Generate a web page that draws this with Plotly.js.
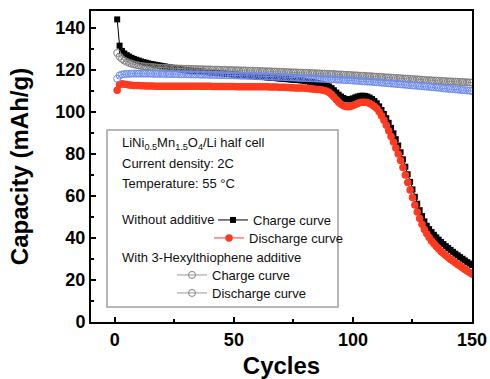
<!DOCTYPE html>
<html><head><meta charset="utf-8">
<script src="https://cdn.plot.ly/plotly-3.0.1.min.js"></script>
<style>html,body{margin:0;padding:0;background:#fff}#chart{width:490px;height:379px}</style>
</head><body><div id="chart"></div>
<script>
const cycles = [1,2,3,4,5,6,7,8,9,10,11,12,13,14,15,16,17,18,19,20,21,22,23,24,25,26,27,28,29,30,
31,32,33,34,35,36,37,38,39,40,41,42,43,44,45,46,47,48,49,50,51,52,53,54,55,56,57,58,59,60,
61,62,63,64,65,66,67,68,69,70,71,72,73,74,75,76,77,78,79,80,81,82,83,84,85,86,87,88,89,90,
91,92,93,94,95,96,97,98,99,100,101,102,103,104,105,106,107,108,109,110,111,112,113,114,115,116,117,118,119,120,
121,122,123,124,125,126,127,128,129,130,131,132,133,134,135,136,137,138,139,140,141,142,143,144,145,146,147,148,149,150];

const chargeNoAdd = [144.0,131.5,129.0,127.8,127.0,126.3,125.7,125.2,124.8,124.4,
124.0,123.7,123.4,123.1,122.8,122.6,122.4,122.2,122.0,121.8,
121.6,121.4,121.2,121.0,120.8,120.6,120.4,120.2,120.0,119.8,
119.7,119.6,119.5,119.4,119.3,119.2,119.1,119.0,118.9,118.8,
118.7,118.6,118.5,118.4,118.3,118.2,118.1,118.0,117.9,117.8,
117.7,117.6,117.5,117.4,117.3,117.2,117.1,117.0,116.9,116.8,
116.7,116.6,116.5,116.4,116.3,116.2,116.1,116.0,115.9,115.8,
115.7,115.6,115.5,115.4,115.3,115.2,115.1,115.0,114.9,114.7,
114.5,114.3,114.1,113.9,113.7,113.5,113.3,113.0,112.6,112.1,
111.3,110.3,109.2,108.2,107.3,106.6,106.1,105.9,106.0,106.4,
106.9,107.3,107.6,107.7,107.6,107.3,106.8,106.1,105.2,104.1,
102.6,100.9,99.0,97.0,94.8,92.4,89.8,87.0,84.0,80.8,
77.4,73.9,70.3,66.7,63.1,59.6,56.3,53.2,50.4,47.9,
45.8,44.2,42.8,41.5,40.3,39.2,38.1,37.1,36.1,35.2,
34.3,33.4,32.5,31.7,30.9,30.1,29.3,28.5,27.8,27.1];

const dischargeNoAdd = [110.3,113.0,113.4,113.2,113.0,112.8,112.7,112.6,112.5,112.5,
112.4,112.4,112.3,112.3,112.3,112.3,112.2,112.2,112.2,112.2,
112.2,112.2,112.2,112.2,112.2,112.2,112.2,112.2,112.2,112.2,
112.2,112.2,112.2,112.2,112.2,112.2,112.2,112.2,112.2,112.2,
112.1,112.1,112.1,112.1,112.1,112.1,112.1,112.1,112.1,112.1,
112.0,112.0,112.0,112.0,112.0,112.0,112.0,112.0,112.0,112.0,
111.9,111.9,111.9,111.9,111.8,111.8,111.8,111.8,111.7,111.7,
111.7,111.6,111.6,111.5,111.5,111.4,111.4,111.3,111.3,111.2,
111.1,111.0,110.9,110.8,110.7,110.6,110.4,110.2,109.8,109.2,
108.3,107.1,105.8,104.6,103.6,102.9,102.5,102.4,102.6,103.0,
103.5,104.0,104.4,104.6,104.6,104.4,104.0,103.4,102.6,101.6,
100.0,98.2,96.0,93.6,91.0,88.3,85.6,82.8,79.9,76.8,
73.5,70.0,66.4,62.8,59.2,55.7,52.4,49.3,46.5,44.0,
42.0,40.2,38.6,37.2,35.9,34.7,33.6,32.6,31.6,30.7,
29.8,29.0,28.2,27.4,26.6,25.8,25.0,24.3,23.6,22.9];

const chargeAdd = [128.0,126.3,125.2,124.4,123.8,123.3,122.9,122.6,122.3,122.1,
121.9,121.7,121.6,121.5,121.4,121.3,121.2,121.1,121.0,121.0,
120.9,120.9,120.8,120.8,120.7,120.7,120.6,120.6,120.5,120.5,
120.5,120.4,120.4,120.4,120.3,120.3,120.3,120.2,120.2,120.2,
120.1,120.1,120.1,120.0,120.0,120.0,119.9,119.9,119.9,119.8,
119.8,119.8,119.7,119.7,119.7,119.6,119.6,119.6,119.5,119.5,
119.4,119.4,119.3,119.3,119.3,119.2,119.2,119.1,119.1,119.0,
119.0,118.9,118.9,118.8,118.8,118.8,118.7,118.7,118.6,118.6,
118.5,118.5,118.4,118.4,118.3,118.3,118.2,118.2,118.1,118.1,
118.0,118.0,117.9,117.8,117.8,117.7,117.6,117.6,117.5,117.4,
117.4,117.3,117.2,117.2,117.1,117.0,117.0,116.9,116.8,116.7,
116.7,116.6,116.5,116.4,116.4,116.3,116.2,116.1,116.1,116.0,
115.9,115.8,115.8,115.7,115.6,115.5,115.5,115.4,115.3,115.2,
115.1,115.1,115.0,114.9,114.9,114.8,114.7,114.7,114.6,114.5,
114.5,114.4,114.4,114.3,114.2,114.2,114.1,114.1,114.0,113.9];

const dischargeAdd = [115.8,117.3,117.8,118.0,118.1,118.1,118.2,118.2,118.2,118.2,
118.2,118.2,118.2,118.2,118.2,118.1,118.1,118.1,118.1,118.1,
118.1,118.0,118.0,118.0,118.0,118.0,117.9,117.9,117.9,117.9,
117.9,117.8,117.8,117.8,117.8,117.7,117.7,117.7,117.7,117.6,
117.6,117.6,117.5,117.5,117.5,117.5,117.4,117.4,117.4,117.3,
117.3,117.3,117.2,117.2,117.2,117.1,117.1,117.1,117.0,117.0,
116.9,116.9,116.9,116.8,116.8,116.7,116.7,116.7,116.6,116.6,
116.5,116.5,116.4,116.4,116.3,116.3,116.2,116.2,116.1,116.1,
116.0,116.0,115.9,115.9,115.8,115.8,115.7,115.7,115.6,115.6,
115.5,115.5,115.4,115.3,115.3,115.2,115.1,115.1,115.0,114.9,
114.8,114.8,114.7,114.6,114.5,114.4,114.4,114.3,114.2,114.1,
114.0,113.9,113.8,113.7,113.6,113.5,113.4,113.3,113.2,113.1,
113.0,112.9,112.8,112.7,112.6,112.5,112.4,112.3,112.2,112.1,
112.0,111.9,111.8,111.7,111.6,111.5,111.4,111.2,111.1,111.0,
110.9,110.8,110.7,110.6,110.5,110.4,110.3,110.2,110.1,109.9];

const xTickVals = [0, 50, 100, 150];
const yTickVals = [0, 20, 40, 60, 80, 100, 120, 140];

const FONT = 'Arial, "Liberation Sans", sans-serif';

const traces = [
  {x: cycles, y: chargeNoAdd, type: 'scatter', mode: 'lines+markers', name: 'Charge curve',
   line: {color: '#000', width: 1}, marker: {symbol: 'square', size: 6, color: '#000'}, legend: 'legend'},
  {x: cycles, y: dischargeNoAdd, type: 'scatter', mode: 'lines+markers', name: 'Discharge curve',
   line: {color: '#ff3b1f', width: 1}, marker: {symbol: 'circle', size: 7.5, color: '#ff3b1f'}, legend: 'legend2'},
  {x: cycles, y: chargeAdd, type: 'scatter', mode: 'lines+markers', name: 'Charge curve',
   line: {color: '#999', width: 1}, marker: {symbol: 'circle-open', size: 7, color: '#808080', line: {width: 1}}, legend: 'legend3'},
  {x: cycles, y: dischargeAdd, type: 'scatter', mode: 'lines+markers', name: 'Discharge curve', showlegend: false,
   line: {color: '#7b96f0', width: 1}, marker: {symbol: 'circle-open', size: 7, color: '#6f8cf0', line: {width: 1}}},
  {x: [null], y: [null], type: 'scatter', mode: 'lines+markers', name: 'Discharge curve',
   line: {color: '#999', width: 1}, marker: {symbol: 'circle-open', size: 7, color: '#808080', line: {width: 1}}, legend: 'legend4'}
];

const L = 91, R = 472, T = 11, B = 322;
const px = v => (v - L) / (R - L);
const py = v => (B - v) / (B - T);

const legendBase = {bgcolor: 'rgba(0,0,0,0)', borderwidth: 0, font: {family: FONT, size: 13, color: '#111'},
  xanchor: 'left', yanchor: 'middle', itemwidth: 30, tracegroupgap: 0};

const textAnn = (t, x, y) => ({text: t, x: px(x), y: py(y), xref: 'paper', yref: 'paper',
  xanchor: 'left', yanchor: 'middle', showarrow: false, font: {family: FONT, size: 13, color: '#111'}});

const layout = {
  width: 490, height: 379,
  margin: {l: L, r: 490 - R, t: T, b: 379 - B},
  paper_bgcolor: '#fff', plot_bgcolor: '#fff',
  font: {family: FONT, color: '#000'},
  showlegend: true,
  xaxis: {range: [-10, 150], tickvals: xTickVals, ticks: 'inside', ticklen: 5, tickwidth: 2, tickcolor: '#000',
    showline: true, linecolor: '#000', linewidth: 2, mirror: true, showgrid: false, zeroline: false,
    tickfont: {family: FONT, size: 18, color: '#000', weight: 'bold'},
    minor: {dtick: 25, tick0: 0, ticks: 'inside', ticklen: 3, tickwidth: 2, tickcolor: '#000', showgrid: false},
    title: {text: '<b>Cycles</b>', font: {family: FONT, size: 24, color: '#000'}, standoff: 10}},
  yaxis: {range: [0, 148], tickvals: yTickVals, ticks: 'inside', ticklen: 5, tickwidth: 2, tickcolor: '#000',
    showline: true, linecolor: '#000', linewidth: 2, mirror: true, showgrid: false, zeroline: false,
    tickfont: {family: FONT, size: 18, color: '#000', weight: 'bold'},
    minor: {dtick: 10, tick0: 0, ticks: 'inside', ticklen: 3, tickwidth: 2, tickcolor: '#000', showgrid: false},
    title: {text: '<b>Capacity (mAh/g)</b>', font: {family: FONT, size: 24, color: '#000'}, standoff: 20}},
  legend: Object.assign({}, legendBase, {x: px(213), y: py(220)}),
  legend2: Object.assign({}, legendBase, {x: px(209), y: py(238)}),
  legend3: Object.assign({}, legendBase, {x: px(172), y: py(275)}),
  legend4: Object.assign({}, legendBase, {x: px(172), y: py(293)}),
  shapes: [{type: 'rect', xref: 'paper', yref: 'paper', x0: px(107), x1: px(338), y0: py(307), y1: py(130),
    line: {color: '#a0a0a0', width: 1.5}, fillcolor: 'rgba(0,0,0,0)', layer: 'below'}],
  annotations: [
    textAnn('LiNi<sub>0.5</sub>Mn<sub>1.5</sub>O<sub>4</sub>/Li half cell', 120, 143),
    textAnn('Current density: 2C', 120, 163),
    textAnn('Temperature: 55 \u00B0C', 120, 183),
    textAnn('Without additive', 120, 220),
    textAnn('With 3-Hexylthiophene additive', 120, 257)
  ]
};

Plotly.newPlot('chart', traces, layout, {displayModeBar: false, staticPlot: true});
</script>
</body></html>
